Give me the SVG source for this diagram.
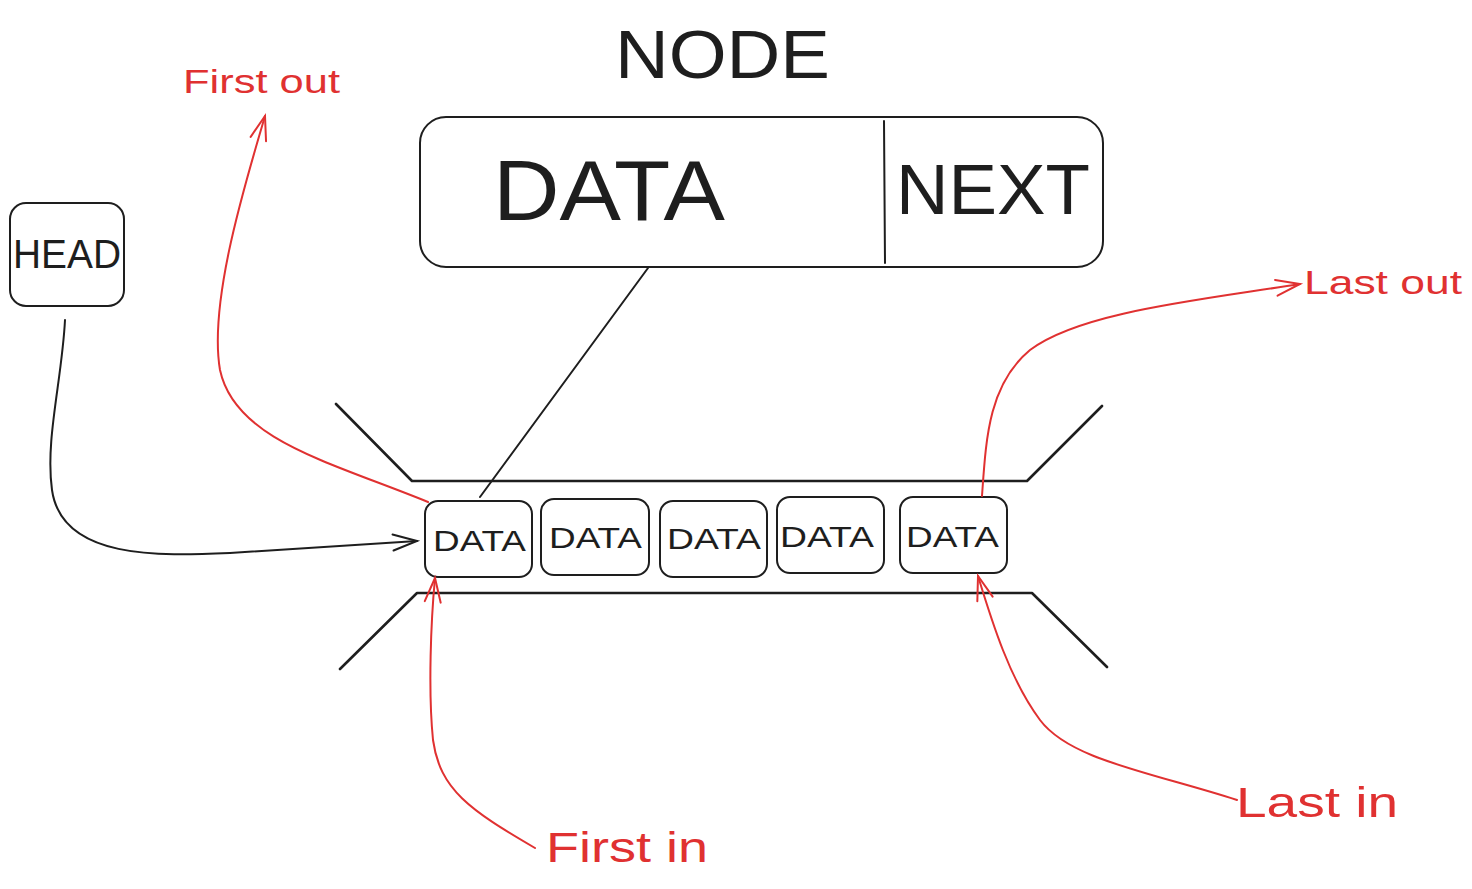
<svg xmlns="http://www.w3.org/2000/svg" width="1472" height="889" viewBox="0 0 1472 889">
  <style>
    .ink { fill: none; stroke: #1e1e1e; stroke-width: 2; stroke-linecap: round; stroke-linejoin: round; }
    .tube { fill: none; stroke: #1e1e1e; stroke-width: 2.6; stroke-linecap: round; stroke-linejoin: round; }
    .box { fill: #ffffff; stroke: #1e1e1e; stroke-width: 2; }
    .red { fill: none; stroke: #e03131; stroke-width: 2; stroke-linecap: round; stroke-linejoin: round; }
    .lbl { font-family: "Liberation Sans", "DejaVu Sans", sans-serif; fill: #1e1e1e; }
    .rlbl { font-family: "Liberation Sans", "DejaVu Sans", sans-serif; fill: #e03131; }
  </style>
  <defs>
    <marker id="headBlack" markerUnits="userSpaceOnUse" markerWidth="30" markerHeight="30" viewBox="-26 -12 30 24" refX="0" refY="0" orient="auto">
      <path d="M-24 -8 L0 0 L-24 8" fill="none" stroke="#1e1e1e" stroke-width="2" stroke-linecap="round"/>
    </marker>
    <marker id="headRed" markerUnits="userSpaceOnUse" markerWidth="30" markerHeight="30" viewBox="-26 -12 30 24" refX="0" refY="0" orient="auto">
      <path d="M-24 -8 L0 0 L-24 8" fill="none" stroke="#e03131" stroke-width="2" stroke-linecap="round"/>
    </marker>
  </defs>

  <rect width="1472" height="889" fill="#ffffff"/>

  <!-- title -->
  <text class="lbl" x="615" y="78" font-size="68" textLength="215" lengthAdjust="spacingAndGlyphs">NODE</text>

  <!-- node structure: data field and next pointer -->
  <g id="node-detail">
    <rect class="box" x="420" y="117" width="683" height="150" rx="26"/>
    <line class="ink" x1="884" y1="121" x2="885" y2="263"/>
    <text class="lbl" x="493" y="220" font-size="86" textLength="232" lengthAdjust="spacingAndGlyphs">DATA</text>
    <text class="lbl" x="896" y="214" font-size="70" textLength="194" lengthAdjust="spacingAndGlyphs">NEXT</text>
  </g>

  <!-- head pointer -->
  <g id="head">
    <rect class="box" x="10" y="203" width="114" height="103" rx="16"/>
    <text class="lbl" x="13" y="268" font-size="40" textLength="108" lengthAdjust="spacingAndGlyphs">HEAD</text>
  </g>

  <!-- queue tube -->
  <g id="tube">
    <polyline class="tube" points="336,404 412,481 1027,481 1102,406"/>
    <polyline class="tube" points="340,669 417,593 1032,593 1107,667"/>
  </g>

  <!-- queued elements -->
  <g id="data1">
    <rect class="box" x="425" y="501" width="107" height="76" rx="13"/>
    <text class="lbl" x="433" y="551" font-size="30" textLength="93" lengthAdjust="spacingAndGlyphs">DATA</text>
  </g>
  <g id="data2">
    <rect class="box" x="541" y="499" width="108" height="76" rx="13"/>
    <text class="lbl" x="549" y="548" font-size="30" textLength="93" lengthAdjust="spacingAndGlyphs">DATA</text>
  </g>
  <g id="data3">
    <rect class="box" x="660" y="501" width="107" height="76" rx="13"/>
    <text class="lbl" x="667" y="549" font-size="30" textLength="94" lengthAdjust="spacingAndGlyphs">DATA</text>
  </g>
  <g id="data4">
    <rect class="box" x="777" y="497" width="107" height="76" rx="13"/>
    <text class="lbl" x="780" y="547" font-size="30" textLength="94" lengthAdjust="spacingAndGlyphs">DATA</text>
  </g>
  <g id="data5">
    <rect class="box" x="900" y="497" width="107" height="76" rx="13"/>
    <text class="lbl" x="906" y="547" font-size="30" textLength="93" lengthAdjust="spacingAndGlyphs">DATA</text>
  </g>

  <!-- connectors -->
  <g id="connectors">
    <line class="ink" x1="648" y1="268" x2="480" y2="497"/>
    <path class="ink" d="M65 320 C 62 380, 45 440, 52 490 C 62 560, 160 556, 230 553 L 417 541" marker-end="url(#headBlack)"/>
    <path class="red" d="M428 502 C 330 462, 235 440, 220 370 C 208 300, 248 175, 265 116" marker-end="url(#headRed)"/>
    <path class="red" d="M982 496 C 986 440, 988 385, 1030 350 C 1080 312, 1200 300, 1300 284" marker-end="url(#headRed)"/>
    <path class="red" d="M535 848 C 470 810, 440 790, 433 740 C 428 690, 431 620, 435 578" marker-end="url(#headRed)"/>
    <path class="red" d="M1237 800 C 1150 772, 1070 760, 1040 720 C 1010 680, 992 622, 978 576" marker-end="url(#headRed)"/>
  </g>

  <!-- end labels -->
  <text class="rlbl" x="183" y="93" font-size="33" textLength="157" lengthAdjust="spacingAndGlyphs">First out</text>
  <text class="rlbl" x="1304" y="294" font-size="33" textLength="158" lengthAdjust="spacingAndGlyphs">Last out</text>
  <text class="rlbl" x="546" y="862" font-size="42" textLength="162" lengthAdjust="spacingAndGlyphs">First in</text>
  <text class="rlbl" x="1236" y="817" font-size="42" textLength="162" lengthAdjust="spacingAndGlyphs">Last in</text>
</svg>
